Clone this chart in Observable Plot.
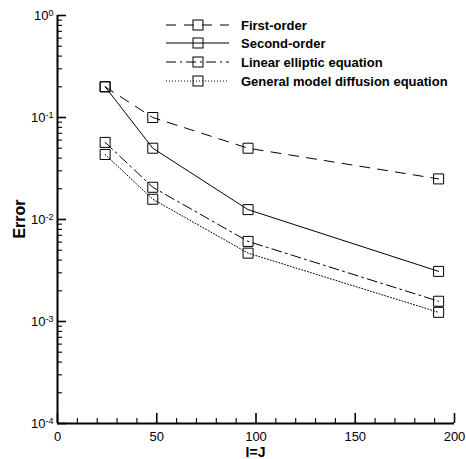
<!DOCTYPE html>
<html><head><meta charset="utf-8">
<script src="https://cdn.jsdelivr.net/npm/d3@7"></script>
<script src="https://cdn.jsdelivr.net/npm/@observablehq/plot@0.6"></script>
<style>
body{margin:0;background:#fff}
svg{display:block}
</style>
</head><body><div id="chart"></div>
<script>
// ---- data ----
const gridSizes = [24, 48, 96, 192];
const firstOrder = [0.2, 0.1, 0.05, 0.025];
const secondOrder = [0.2, 0.05, 0.0125, 0.0031];
const linearElliptic = [0.057, 0.0207, 0.0061, 0.00158];
const generalDiffusion = [0.0434, 0.0158, 0.00468, 0.00123];
const seriesNames = ["First-order", "Second-order", "Linear elliptic equation", "General model diffusion equation"];
const seriesValues = [firstOrder, secondOrder, linearElliptic, generalDiffusion];
const seriesDash = ["10,8", "none", "10,4,2,4", "1,2"];
const xMajorTicks = [0, 50, 100, 150, 200];
const xMinorTicks = [10, 20, 30, 40, 60, 70, 80, 90, 110, 120, 130, 140, 160, 170, 180, 190];
const yExponents = [-4, -3, -2, -1, 0];
const yMajorTicks = yExponents.map(e => Math.pow(10, e));
const yMinorMultipliers = [2, 3, 4, 5, 6, 7, 8, 9];
const yMinorTicks = yExponents.slice(0, -1).flatMap(e => yMinorMultipliers.map(m => m * Math.pow(10, e)));
const xLabel = "I=J";
const yLabel = "Error";

const rows = seriesNames.flatMap((name, s) => gridSizes.map((x, i) => ({series: name, x, y: seriesValues[s][i]})));

const FONT = "'Liberation Sans', Arial, Helvetica, sans-serif";

const W = 466, H = 459, ML = 57, MR = 12, MT = 15, MB = 36;
const PW = W - ML - MR, PH = H - MT - MB;

const marks = [];
seriesNames.forEach((name, s) => {
  marks.push(Plot.line(rows.filter(r => r.series === name), {
    x: "x", y: "y", stroke: "black", strokeWidth: 1, strokeDasharray: seriesDash[s]
  }));
});
marks.push(Plot.dot(rows, {x: "x", y: "y", symbol: "square", r: 10 / Math.sqrt(Math.PI), stroke: "black", strokeWidth: 1, fill: "none"}));
// axis lines
marks.push(Plot.ruleX([0], {stroke: "black", strokeWidth: 2}));
marks.push(Plot.ruleY([1e-4], {stroke: "black", strokeWidth: 2}));
// inward ticks
marks.push(Plot.tickY(yMajorTicks, {y: d => d, insetRight: PW - 9, stroke: "black", strokeWidth: 1.6}));
marks.push(Plot.tickY(yMinorTicks, {y: d => d, insetRight: PW - 5, stroke: "black", strokeWidth: 1.1}));
marks.push(Plot.tickX(xMajorTicks, {x: d => d, insetTop: PH - 10, stroke: "black", strokeWidth: 1.6}));
marks.push(Plot.tickX(xMinorTicks, {x: d => d, insetTop: PH - 5, stroke: "black", strokeWidth: 1.1}));
// tick labels
marks.push(Plot.text(xMajorTicks, {x: d => d, frameAnchor: "bottom", lineAnchor: "top", dy: 8, text: d => String(d), fontSize: 13, fill: "black"}));
marks.push(Plot.text(yExponents, {y: e => Math.pow(10, e), frameAnchor: "left", dx: -4, textAnchor: "end", text: e => "10^" + e, fontSize: 13, fill: "black"}));

const chart = Plot.plot({
  width: W, height: H,
  marginLeft: ML, marginRight: MR, marginTop: MT, marginBottom: MB,
  style: {fontFamily: FONT, fontSize: "13px", background: "white", color: "black"},
  x: {domain: [0, 200], axis: null},
  y: {type: "log", domain: [1e-4, 1], axis: null},
  marks
});

const svg = d3.select(chart);
// superscripts for y tick labels
svg.selectAll("text").each(function() {
  const t = this.textContent;
  if (t.startsWith("10^")) {
    const exp = t.slice(3);
    const el = d3.select(this);
    el.text(null);
    el.append("tspan").text("10");
    el.append("tspan").attr("dy", "-0.45em").attr("font-size", "9px").text(exp);
  }
});

// axis titles
svg.append("text")
  .attr("x", (ML + (W - MR)) / 2).attr("y", 457)
  .attr("text-anchor", "middle").attr("font-family", FONT)
  .attr("font-weight", "bold").attr("font-size", 14).attr("fill", "black")
  .text(xLabel);
svg.append("text")
  .attr("transform", `translate(25,${(MT + H - MB) / 2}) rotate(-90)`)
  .attr("text-anchor", "middle").attr("font-family", FONT)
  .attr("font-weight", "bold").attr("font-size", 16).attr("fill", "black")
  .text(yLabel);

// legend
const legendRowsY = [25, 43, 62, 81];
const lg = svg.append("g").attr("font-family", FONT).attr("text-anchor", "start");
seriesNames.forEach((name, s) => {
  const y = legendRowsY[s];
  lg.append("line").attr("x1", 166).attr("x2", 229).attr("y1", y).attr("y2", y)
    .attr("stroke", "black").attr("stroke-width", 1)
    .attr("stroke-dasharray", seriesDash[s]);
  lg.append("rect").attr("x", 193).attr("y", y - 5).attr("width", 10).attr("height", 10)
    .attr("fill", "none").attr("stroke", "black").attr("stroke-width", 1);
  lg.append("text").attr("x", 241).attr("y", y).attr("dy", "0.35em")
    .attr("text-anchor", "start")
    .attr("font-weight", "bold").attr("font-size", 13).attr("fill", "black")
    .text(name);
});

document.getElementById("chart").appendChild(chart);
</script>
</body></html>
